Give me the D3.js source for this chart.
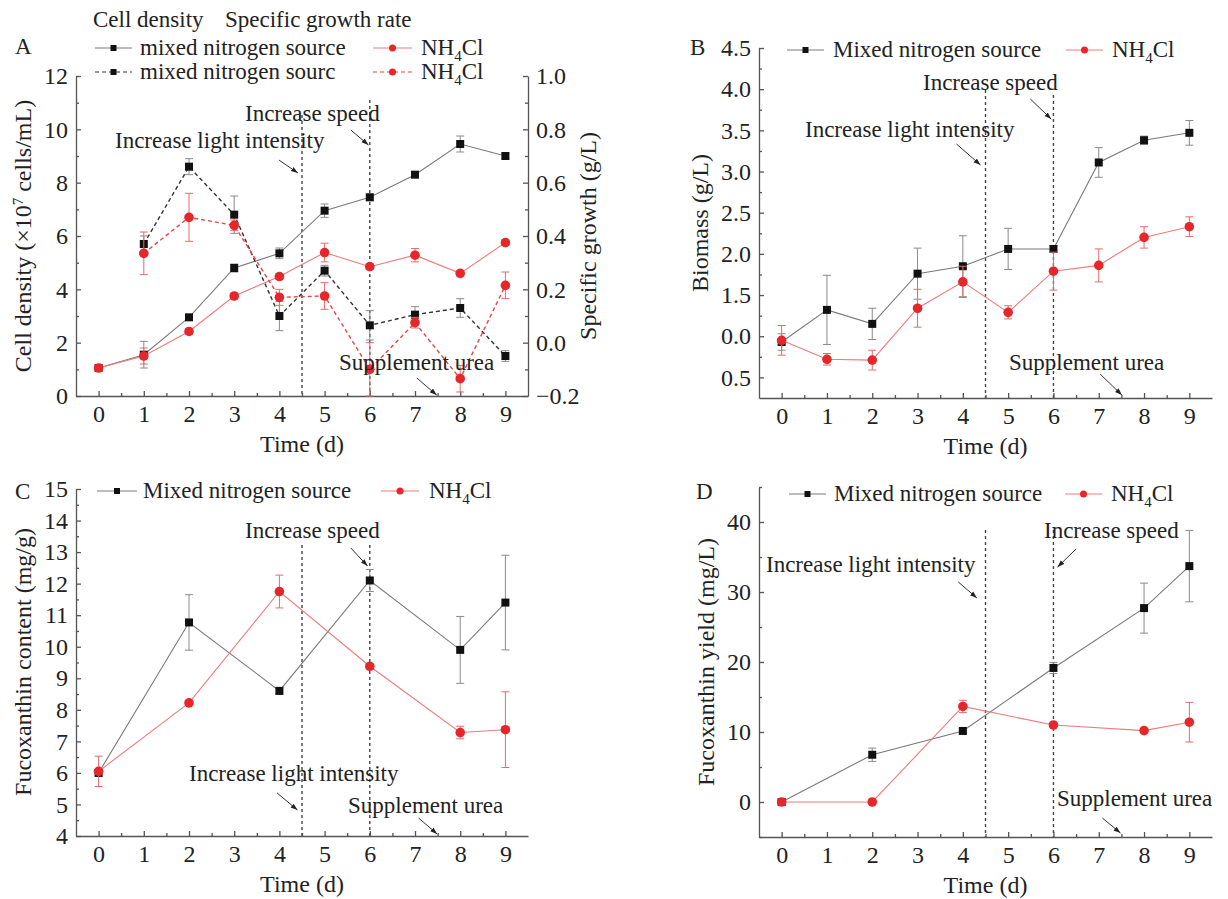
<!DOCTYPE html>
<html>
<head>
<meta charset="utf-8">
<script src="https://cdn.jsdelivr.net/npm/d3@7"></script>
<style>
body { margin: 0; background: #fff; }
text { font-family: "Liberation Serif", "Times New Roman", serif; fill: #222; }
</style>
</head>
<body>
<svg width="1228" height="899"></svg>
<script>
// ---- data ----
var days = [0, 1, 2, 3, 4, 5, 6, 7, 8, 9];
var daysRate = [1, 2, 3, 4, 5, 6, 7, 8, 9];
var daysFuco = [0, 2, 4, 6, 8, 9];
var xTickLabels = ["0", "1", "2", "3", "4", "5", "6", "7", "8", "9"];

// A: cell density (x10^7 cells/mL) and specific growth rate
var densMixed = [1.05, 1.55, 2.95, 4.8, 5.35, 6.95, 7.45, 8.3, 9.45, 9.0];
var densMixedErr = [0.08, 0.5, 0.1, 0.15, 0.2, 0.25, 0.12, 0.1, 0.3, 0.1];
var densNH4 = [1.05, 1.5, 2.42, 3.75, 4.48, 5.38, 4.85, 5.28, 4.6, 5.75];
var densNH4Err = [0.08, 0.3, 0.1, 0.1, 0.1, 0.35, 0.1, 0.25, 0.1, 0.1];
var rateMixed = [0.37, 0.66, 0.48, 0.1, 0.27, 0.065, 0.105, 0.13, -0.05];
var rateMixedErr = [0.03, 0.03, 0.07, 0.055, 0.02, 0.055, 0.03, 0.035, 0.02];
var rateNH4 = [0.335, 0.47, 0.44, 0.17, 0.175, -0.1, 0.075, -0.135, 0.215];
var rateNH4Err = [0.08, 0.09, 0.02, 0.03, 0.05, 0.1, 0.02, 0.05, 0.05];

// B: biomass (g/L) -- tick labels copied as printed
var bioMixed = [0.93, 1.32, 1.15, 1.76, 1.85, 2.06, 2.06, 3.11, 3.38, 3.47];
var bioMixedErr = [0.1, 0.42, 0.19, 0.31, 0.37, 0.25, 0.04, 0.18, 0.05, 0.15];
var bioNH4 = [0.95, 0.72, 0.71, 1.34, 1.66, 1.29, 1.79, 1.86, 2.2, 2.33];
var bioNH4Err = [0.18, 0.07, 0.12, 0.23, 0.19, 0.08, 0.23, 0.2, 0.13, 0.12];
var bioTicks = [0.5, 1, 1.5, 2, 2.5, 3, 3.5, 4, 4.5];
var bioTickLabels = ["0.5", "0.0", "1.5", "2.0", "2.5", "3.0", "3.5", "4.0", "4.5"];

// C: fucoxanthin content (mg/g)
var fucoMixed = [6.0, 10.77, 8.6, 12.1, 9.9, 11.4];
var fucoMixedErr = [0.1, 0.88, 0.1, 0.35, 1.06, 1.5];
var fucoNH4 = [6.05, 8.22, 11.75, 9.38, 7.28, 7.37];
var fucoNH4Err = [0.48, 0.08, 0.52, 0.08, 0.2, 1.2];

// D: fucoxanthin yield (mg/L)
var yieldMixed = [0, 6.75, 10.15, 19.15, 27.7, 33.7];
var yieldMixedErr = [0.3, 0.95, 0.4, 0.8, 3.57, 5.1];
var yieldNH4 = [0, 0, 13.65, 11.0, 10.2, 11.4];
var yieldNH4Err = [0.2, 0.2, 0.88, 0.3, 0.3, 2.83];

var events = ["Increase light intensity", "Increase speed", "Supplement urea"];
var eventDays = [4.5, 6, 7.5];

// ---- drawing ----
var svg = d3.select("svg");
var BLACK = "#111", GREYLINE = "#7a7a7a", RED = "#e5262b", REDLINE = "#ef7b7b";

svg.append("defs").append("marker")
    .attr("id", "arrow")
    .attr("viewBox", "0 0 10 10")
    .attr("refX", 10).attr("refY", 5)
    .attr("markerWidth", 7).attr("markerHeight", 7)
    .attr("orient", "auto")
  .append("path")
    .attr("d", "M0,1.5 L10,5 L0,8.5 Z")
    .attr("fill", "#222");

function styleAxis(g) {
  g.attr("font-family", null).attr("font-size", 24);
  g.selectAll("path, line").attr("stroke", "#555").attr("stroke-width", 1.3);
  g.selectAll("text").attr("fill", "#222");
}

function nh4(sel, x, y) {
  var t = sel.append("text").attr("x", x).attr("y", y).attr("font-size", 23);
  t.append("tspan").text("NH");
  t.append("tspan").attr("dy", 6).attr("font-size", 15).text("4");
  t.append("tspan").attr("dy", -6).text("Cl");
  return t;
}

function xAxes(p, x) {
  svg.append("g")
      .attr("transform", "translate(0," + p.bottom + ")")
      .call(d3.axisBottom(x).tickValues(days).tickSize(-5).tickSizeOuter(0).tickPadding(9)
        .tickFormat(function(d, i) { return xTickLabels[i]; }))
      .call(styleAxis);
  svg.append("g")
      .attr("transform", "translate(0," + p.bottom + ")")
      .call(d3.axisBottom(x).tickValues(days.map(function(d) { return d + 0.5; }).slice(0, 9))
        .tickSize(-3).tickFormat(""))
      .call(styleAxis)
      .select(".domain").remove();
  svg.append("text")
      .attr("x", (p.left + p.right) / 2).attr("y", p.bottom + 56)
      .attr("text-anchor", "middle").attr("font-size", 24)
      .text("Time (d)");
}

function yAxis(y, xpos, ticks, minor, labels, right) {
  var ax = right ? d3.axisRight(y) : d3.axisLeft(y);
  svg.append("g")
      .attr("transform", "translate(" + xpos + ",0)")
      .call(ax.tickValues(ticks).tickSize(-5).tickSizeOuter(0).tickPadding(8)
        .tickFormat(function(d, i) { return labels[i]; }))
      .call(styleAxis);
  var ax2 = right ? d3.axisRight(y) : d3.axisLeft(y);
  svg.append("g")
      .attr("transform", "translate(" + xpos + ",0)")
      .call(ax2.tickValues(minor).tickSize(-3).tickFormat(""))
      .call(styleAxis)
      .select(".domain").remove();
}

function series(x, y, xs, vals, errs, opt) {
  var pts = xs.map(function(d, i) { return {x: d, v: vals[i], e: errs[i]}; });
  var g = svg.append("g");
  g.append("path")
      .attr("d", d3.line().x(function(d) { return x(d.x); }).y(function(d) { return y(d.v); })(pts))
      .attr("fill", "none")
      .attr("stroke", opt.line)
      .attr("stroke-width", opt.dash ? 1.4 : 1.1)
      .attr("stroke-dasharray", opt.dash ? "4,3" : null);
  var eb = g.selectAll(".err").data(pts).enter().append("g").attr("stroke", opt.err).attr("stroke-width", 1);
  eb.append("line")
      .attr("x1", function(d) { return x(d.x); }).attr("x2", function(d) { return x(d.x); })
      .attr("y1", function(d) { return y(d.v - d.e); }).attr("y2", function(d) { return y(d.v + d.e); });
  [-1, 1].forEach(function(s) {
    eb.append("line")
        .attr("x1", function(d) { return x(d.x) - 4; }).attr("x2", function(d) { return x(d.x) + 4; })
        .attr("y1", function(d) { return y(d.v + s * d.e); }).attr("y2", function(d) { return y(d.v + s * d.e); });
  });
  if (opt.shape === "square") {
    g.selectAll(".m").data(pts).enter().append("rect")
        .attr("x", function(d) { return x(d.x) - 4; }).attr("y", function(d) { return y(d.v) - 4; })
        .attr("width", 8).attr("height", 8).attr("fill", opt.mark);
  } else {
    g.selectAll(".m").data(pts).enter().append("circle")
        .attr("cx", function(d) { return x(d.x); }).attr("cy", function(d) { return y(d.v); })
        .attr("r", 4.8).attr("fill", opt.mark);
  }
}

function legendItem(x1, x2, yy, opt) {
  svg.append("line").attr("x1", x1).attr("x2", x2).attr("y1", yy).attr("y2", yy)
      .attr("stroke", opt.line).attr("stroke-width", 1.1)
      .attr("stroke-dasharray", opt.dash ? "4,3" : null);
  var cx = (x1 + x2) / 2;
  if (opt.shape === "square") {
    svg.append("rect").attr("x", cx - 3).attr("y", yy - 3).attr("width", 6).attr("height", 6).attr("fill", opt.mark);
  } else {
    svg.append("circle").attr("cx", cx).attr("cy", yy).attr("r", 3.5).attr("fill", opt.mark);
  }
}

function vline(x, day, top, bottom) {
  svg.append("line")
      .attr("x1", x(day)).attr("x2", x(day)).attr("y1", top).attr("y2", bottom)
      .attr("stroke", "#444").attr("stroke-width", 1.4).attr("stroke-dasharray", "3,3");
}

function note(x, label, tx, ty, a) {
  svg.append("text").attr("x", tx).attr("y", ty).attr("font-size", 23).text(label);
  svg.append("line")
      .attr("x1", x(a[0])).attr("y1", a[1]).attr("x2", x(a[2])).attr("y2", a[3])
      .attr("stroke", "#333").attr("stroke-width", 1)
      .attr("marker-end", "url(#arrow)");
}

function yTitle(tx, ty, label) {
  return svg.append("text")
      .attr("transform", "translate(" + tx + "," + ty + ") rotate(-90)")
      .attr("text-anchor", "middle").attr("font-size", 24)
      .text(label);
}

var mixedSolid = {line: GREYLINE, err: "#8a8a8a", mark: BLACK, shape: "square"};
var nh4Solid = {line: REDLINE, err: "#e86a6a", mark: RED, shape: "circle"};
var mixedDash = {line: "#333", err: "#8a8a8a", mark: BLACK, shape: "square", dash: true};
var nh4Dash = {line: "#e84545", err: "#e86a6a", mark: RED, shape: "circle", dash: true};

function range(a, b, s) { return d3.range(a, b + s / 2, s); }

// ---------- Panel A ----------
(function() {
  var p = {left: 76, right: 528, top: 76, bottom: 396};
  var x = d3.scaleLinear().domain([-0.5, 9.5]).range([p.left, p.right]);
  var y = d3.scaleLinear().domain([0, 12]).range([p.bottom, p.top]);
  var y2 = d3.scaleLinear().domain([-0.2, 1.0]).range([p.bottom, p.top]);

  vline(x, eventDays[0], 115, p.bottom);
  vline(x, eventDays[1], 100, p.bottom);
  xAxes(p, x);
  yAxis(y, p.left, range(0, 12, 2), range(1, 11, 2), range(0, 12, 2).map(String), false);
  yAxis(y2, p.right, range(-0.2, 1.0, 0.2), range(-0.1, 0.9, 0.2),
        ["\u22120.2", "0.0", "0.2", "0.4", "0.6", "0.8", "1.0"], true);

  series(x, y, days, densMixed, densMixedErr, mixedSolid);
  series(x, y, days, densNH4, densNH4Err, nh4Solid);
  series(x, y2, daysRate, rateMixed, rateMixedErr, mixedDash);
  series(x, y2, daysRate, rateNH4, rateNH4Err, nh4Dash);

  note(x, events[0], 115, 148, [3.99, 160, 4.41, 173]);
  note(x, events[1], 245, 121, [5.58, 130, 5.97, 145]);
  note(x, events[2], 339, 370, [7.04, 378, 7.48, 395]);

  var t = yTitle(31, 236, "Cell density (\u00d710");
  t.append("tspan").attr("dy", -8).attr("font-size", 15).text("7");
  t.append("tspan").attr("dy", 8).text(" cells/mL)");
  svg.append("text")
      .attr("transform", "translate(596,236) rotate(-90)")
      .attr("text-anchor", "middle").attr("font-size", 24)
      .text("Specific growth (g/L)");

  svg.append("text").attr("x", 15).attr("y", 54).attr("font-size", 23).text("A");
  svg.append("text").attr("x", 93).attr("y", 27).attr("font-size", 23).text("Cell density");
  svg.append("text").attr("x", 225).attr("y", 27).attr("font-size", 23).text("Specific growth rate");
  legendItem(95, 132, 48, mixedSolid);
  svg.append("text").attr("x", 140).attr("y", 55).attr("font-size", 23).text("mixed nitrogen source");
  legendItem(373, 412, 48, nh4Solid);
  nh4(svg, 421, 55);
  legendItem(95, 132, 72, mixedDash);
  svg.append("text").attr("x", 140).attr("y", 79).attr("font-size", 23).text("mixed nitrogen sourc");
  legendItem(373, 412, 72, nh4Dash);
  nh4(svg, 421, 79);
})();

// ---------- Panel B ----------
(function() {
  var p = {left: 759, right: 1212, top: 48, bottom: 398};
  var x = d3.scaleLinear().domain([-0.5, 9.5]).range([p.left, p.right]);
  var y = d3.scaleLinear().domain([0.25, 4.5]).range([p.bottom, p.top]);

  vline(x, eventDays[0], 90, p.bottom);
  vline(x, eventDays[1], 95, p.bottom);
  xAxes(p, x);
  yAxis(y, p.left, bioTicks, range(0.75, 4.25, 0.5), bioTickLabels, false);

  series(x, y, days, bioMixed, bioMixedErr, mixedSolid);
  series(x, y, days, bioNH4, bioNH4Err, nh4Solid);

  note(x, events[0], 805, 137, [3.86, 144, 4.39, 165]);
  note(x, events[1], 923, 90, [5.49, 99, 5.95, 119]);
  note(x, events[2], 1009, 370, [7.03, 374, 7.51, 395]);

  yTitle(708, 223, "Biomass (g/L)");
  svg.append("text").attr("x", 690).attr("y", 55).attr("font-size", 23).text("B");
  legendItem(787, 824, 50, mixedSolid);
  svg.append("text").attr("x", 833).attr("y", 57).attr("font-size", 23).text("Mixed nitrogen source");
  legendItem(1066, 1103, 50, nh4Solid);
  nh4(svg, 1112, 57);
})();

// ---------- Panel C ----------
(function() {
  var p = {left: 76, right: 528, top: 489, bottom: 836};
  var x = d3.scaleLinear().domain([-0.5, 9.5]).range([p.left, p.right]);
  var y = d3.scaleLinear().domain([4, 15]).range([p.bottom, p.top]);

  vline(x, eventDays[0], 545, p.bottom);
  vline(x, eventDays[1], 545, p.bottom);
  xAxes(p, x);
  yAxis(y, p.left, range(4, 15, 1), range(4.5, 14.5, 1), range(4, 15, 1).map(String), false);

  series(x, y, daysFuco, fucoMixed, fucoMixedErr, mixedSolid);
  series(x, y, daysFuco, fucoNH4, fucoNH4Err, nh4Solid);

  note(x, events[0], 189, 781, [3.95, 793, 4.4, 810]);
  note(x, events[1], 245, 538, [5.58, 548, 5.95, 566]);
  note(x, events[2], 348, 813, [7.08, 818, 7.49, 834]);

  yTitle(31, 662, "Fucoxanthin content (mg/g)");
  svg.append("text").attr("x", 15).attr("y", 499).attr("font-size", 23).text("C");
  legendItem(97, 137, 491, mixedSolid);
  svg.append("text").attr("x", 143).attr("y", 498).attr("font-size", 23).text("Mixed nitrogen source");
  legendItem(381, 419, 491, nh4Solid);
  nh4(svg, 429, 498);
})();

// ---------- Panel D ----------
(function() {
  var p = {left: 759, right: 1212, top: 487, bottom: 837};
  var x = d3.scaleLinear().domain([-0.5, 9.5]).range([p.left, p.right]);
  var y = d3.scaleLinear().domain([-5, 45]).range([p.bottom, p.top]);

  vline(x, eventDays[0], 530, p.bottom);
  vline(x, eventDays[1], 530, p.bottom);
  xAxes(p, x);
  yAxis(y, p.left, range(0, 40, 10), range(-5, 45, 10), ["0", "10", "20", "30", "40"], false);

  series(x, y, daysFuco, yieldMixed, yieldMixedErr, mixedSolid);
  series(x, y, daysFuco, yieldNH4, yieldNH4Err, nh4Solid);

  note(x, events[0], 766, 572, [3.9, 582, 4.31, 598]);
  note(x, events[1], 1044, 538, [6.5, 549, 6.09, 567]);
  note(x, events[2], 1057, 806, [7.08, 818, 7.48, 833]);

  yTitle(714, 662, "Fucoxanthin yield (mg/L)");
  svg.append("text").attr("x", 696).attr("y", 499).attr("font-size", 23).text("D");
  legendItem(789, 826, 494, mixedSolid);
  svg.append("text").attr("x", 834).attr("y", 501).attr("font-size", 23).text("Mixed nitrogen source");
  legendItem(1065, 1102, 494, nh4Solid);
  nh4(svg, 1111, 501);
})();
</script>
</body>
</html>
